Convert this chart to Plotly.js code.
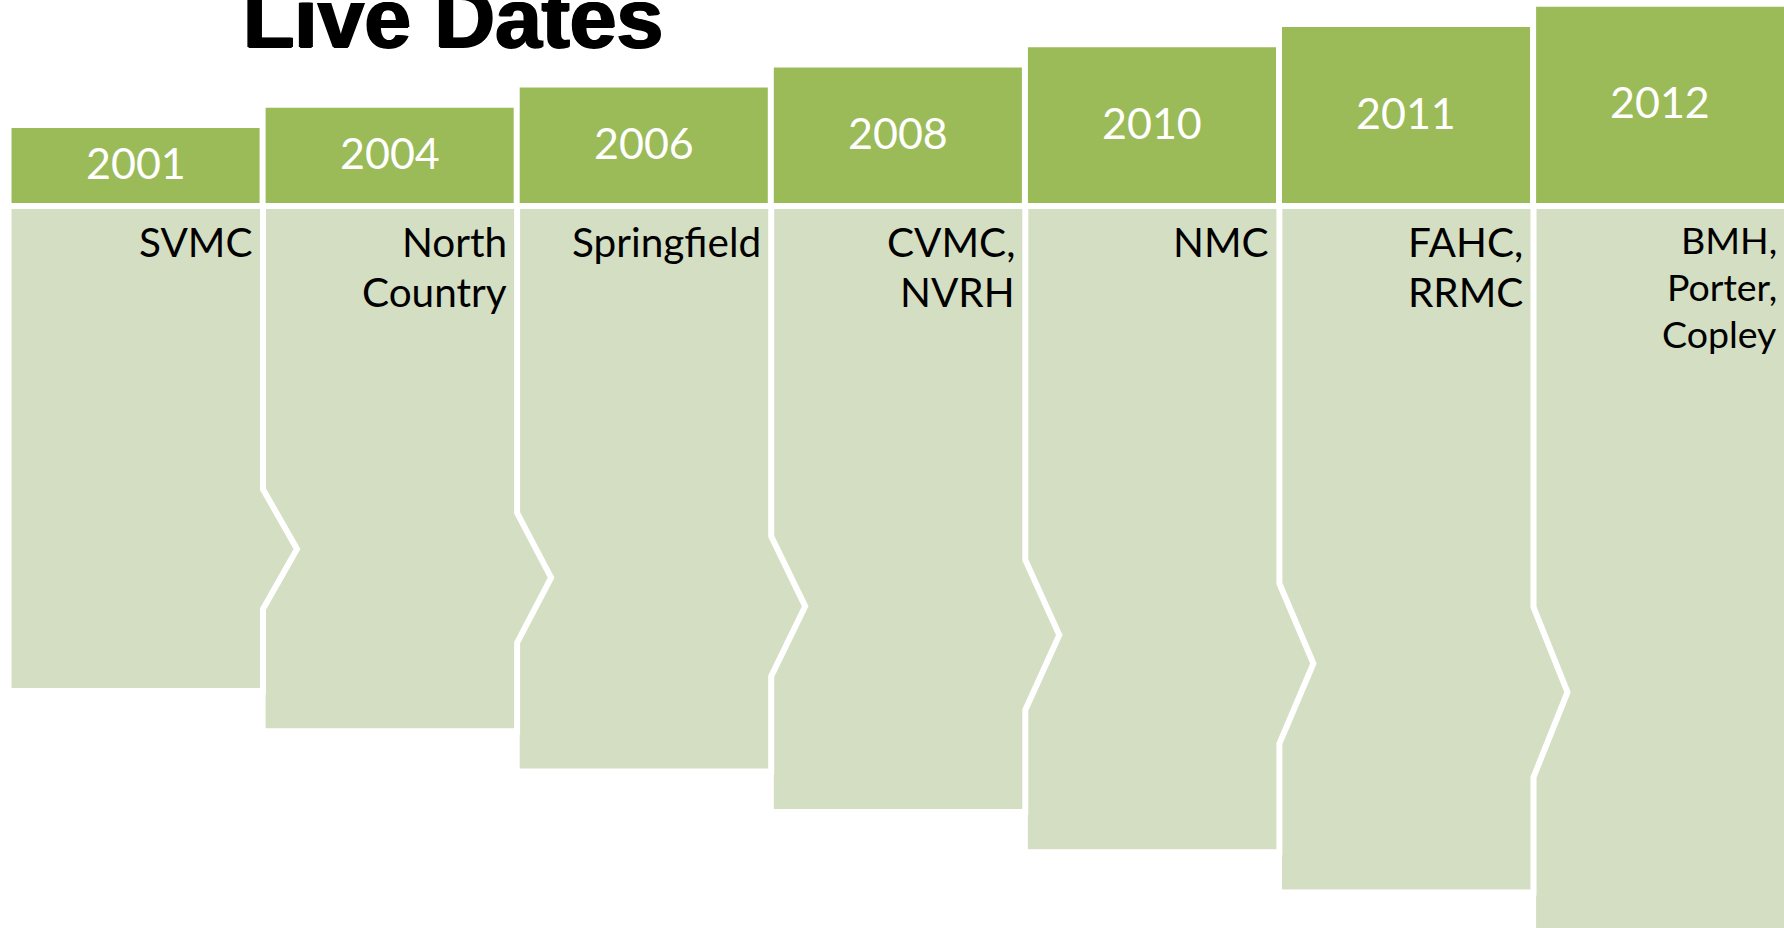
<!DOCTYPE html>
<html>
<head>
<meta charset="utf-8">
<script src="https://cdn.plot.ly/plotly-3.0.1.min.js"></script>
<style>
  html, body { margin: 0; padding: 0; background: #ffffff; }
  #chart { width: 1784px; height: 928px; }
</style>
</head>
<body>
<div id="chart"></div>
<script>
// ---- data ----
const chartTitle = 'Live Dates';
const years = ['2001', '2004', '2006', '2008', '2010', '2011', '2012'];
const sites = ['SVMC', 'North<br>Country', 'Springfield', 'CVMC,<br>NVRH', 'NMC', 'FAHC,<br>RRMC', 'BMH,<br>Porter,<br>Copley'];

// ---- layout geometry (pixels) ----
const W = 1784, Hgt = 928;
const left0 = 11.5, step = 254.1, boxW = 248.5;
const hdrTop0 = 128, hdrStep = 20.2, hdrBottom = 203;
const bodyTop = 209, bodyBottom0 = 688, bodyStep = 40.3;
const sw = 6, hs = sw / 2;
const tipOut = 34;

const headerColor = '#9BBB59';
const bodyColor = '#D4DEC2';
const textFont = 'Lato, "Open Sans", sans-serif';

const N = years.length;
const shapes = [];
const annotations = [];

function rectPath(x0, y0, x1, y1) {
  return `M ${x0} ${y0} L ${x1} ${y0} L ${x1} ${y1} L ${x0} ${y1} Z`;
}

// bodies, drawn last-to-first so each chevron overlaps the next box
for (let i = N - 1; i >= 0; i--) {
  const L = left0 + step * i, R = L + boxW;
  const B = bodyBottom0 + bodyStep * i;
  const xl = L - hs, xr = R + hs, yt = bodyTop - hs, yb = B + hs;
  let path;
  if (i < N - 1) {
    const H = B - bodyTop;
    const tipY = bodyTop + 0.71 * H;
    const half = 0.125 * H;
    path = `M ${xl} ${yt} L ${xr} ${yt} L ${xr} ${tipY - half} L ${xr + tipOut} ${tipY} ` +
           `L ${xr} ${tipY + half} L ${xr} ${yb} L ${xl} ${yb} Z`;
  } else {
    path = rectPath(xl, yt, xr, yb);
  }
  shapes.push({
    type: 'path', xref: 'x', yref: 'y', path: path,
    fillcolor: bodyColor, line: { color: '#FFFFFF', width: sw }, layer: 'above'
  });
}

// headers and texts
for (let i = 0; i < N; i++) {
  const L = left0 + step * i, R = L + boxW;
  const T = hdrTop0 - hdrStep * i;
  shapes.push({
    type: 'path', xref: 'x', yref: 'y', path: rectPath(L - hs, T - hs, R + hs, hdrBottom + hs),
    fillcolor: headerColor, line: { color: '#FFFFFF', width: sw }, layer: 'above'
  });
  annotations.push({
    xref: 'x', yref: 'y', x: (L + R) / 2, y: (T + hdrBottom) / 2 - 3,
    xanchor: 'center', yanchor: 'middle', showarrow: false,
    text: years[i],
    font: { family: textFont, size: 43, color: '#FFFFFF' }
  });
  const lines = sites[i].split('<br>');
  const small = lines.length > 2;
  const size = small ? 37.5 : 40.5;
  const gap = small ? 47 : 50;
  lines.forEach((ln, k) => {
    annotations.push({
      xref: 'x', yref: 'y', x: R - 5.5, y: 214.5 + k * gap,
      xanchor: 'right', yanchor: 'top', align: 'right', showarrow: false,
      text: ln,
      font: { family: textFont, size: size, color: '#000000' }
    });
  });
}

// title (partly cut by the top edge, as in the reference)
annotations.push({
  xref: 'x', yref: 'y', x: 452.5, y: 18, xanchor: 'center', yanchor: 'middle',
  showarrow: false, text: chartTitle,
  font: {
    family: '"Liberation Sans", Arial, sans-serif', size: 84, color: '#000000', weight: 'bold',
    shadow: '1.2px 0 0 #000, -1.2px 0 0 #000, 0 1px 0 #000'
  }
});

const layout = {
  width: W, height: Hgt,
  margin: { l: 0, r: 0, t: 0, b: 0, pad: 0 },
  paper_bgcolor: '#FFFFFF', plot_bgcolor: '#FFFFFF',
  xaxis: { range: [0, W], visible: false, fixedrange: true },
  yaxis: { range: [Hgt, 0], visible: false, fixedrange: true },
  showlegend: false,
  shapes: shapes,
  annotations: annotations
};

Plotly.newPlot('chart', [{ x: [], y: [], type: 'scatter', mode: 'markers', hoverinfo: 'skip' }], layout,
  { staticPlot: true, displayModeBar: false });
</script>
</body>
</html>
